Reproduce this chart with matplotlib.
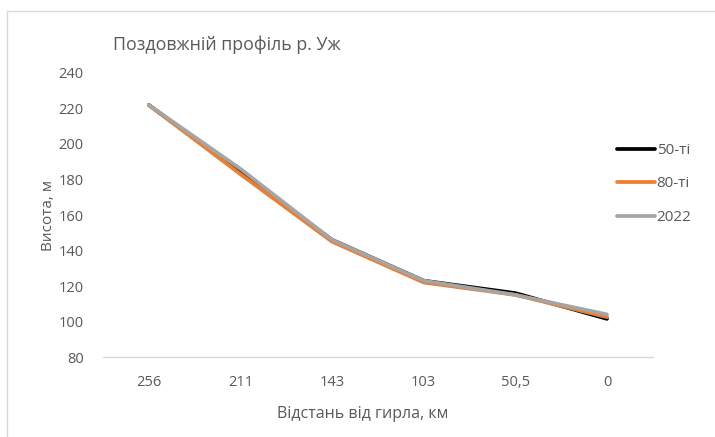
import numpy as np
import matplotlib
matplotlib.use('Agg')
import matplotlib.pyplot as plt

plt.rcParams['font.family'] = ['Open Sans', 'DejaVu Sans']

# distance from river mouth, km (category labels)
distances = ['256', '211', '143', '103', '50,5', '0']

# elevation, m
h_50s  = [222, 184, 146, 123, 116, 101.5]
h_80s  = [222, 183, 145, 122, 115, 102.5]
h_2022 = [222, 186, 146, 123, 115, 104]

series_names = ['50-ті', '80-ті', '2022']
colors = ['#000000', '#ED7D31', '#A5A5A5']
grey_txt = '#595959'

fig = plt.figure(figsize=(7.15, 4.37), dpi=100)
ax = fig.add_axes((0.144, 0.183, 0.769, 0.650))

xs = np.arange(len(distances))
for vals, name, c in zip([h_50s, h_80s, h_2022], series_names, colors):
    ax.plot(xs, vals, color=c, lw=2.7, label=name, solid_capstyle='round')

ax.set_xlim(-0.5, len(distances) - 0.5)
ax.set_ylim(80, 240)
ax.set_yticks(np.arange(80, 241, 20))
ax.set_xticks(xs)
ax.set_xticklabels(distances)

for s in ['top', 'right', 'left']:
    ax.spines[s].set_visible(False)
ax.spines['bottom'].set_color('#D9D9D9')
ax.spines['bottom'].set_linewidth(1.0)
ax.tick_params(axis='both', length=0, labelsize=10.5, labelcolor=grey_txt)
ax.tick_params(axis='x', pad=13)
ax.tick_params(axis='y', pad=14)

ax.set_xlabel('Відстань від гирла, км', fontsize=11.5, color=grey_txt)
ax.xaxis.set_label_coords(0.473, -0.172)
ax.set_ylabel('Висота, м', fontsize=11, color=grey_txt)
ax.yaxis.set_label_coords(-0.085, 0.5)

fig.text(113 / 715, 1 - 45 / 437, 'Поздовжній профіль р. Уж', fontsize=12.8,
         color=grey_txt, ha='left', va='center')

leg = fig.legend(loc='center left', bbox_to_anchor=(617 / 715, 1 - 184 / 437),
                 frameon=False, fontsize=11, handlelength=2.5, handletextpad=0.1,
                 labelspacing=1.22, borderaxespad=0, borderpad=0)
for t in leg.get_texts():
    t.set_color(grey_txt)

# chart area border (top and left edges visible in the crop)
fig.add_artist(plt.Line2D([7 / 715, 1], [1 - 11 / 437] * 2, color='#D9D9D9', lw=1))
fig.add_artist(plt.Line2D([7 / 715] * 2, [0, 1 - 11 / 437], color='#D9D9D9', lw=1))

fig.savefig('out.png', dpi=100)
